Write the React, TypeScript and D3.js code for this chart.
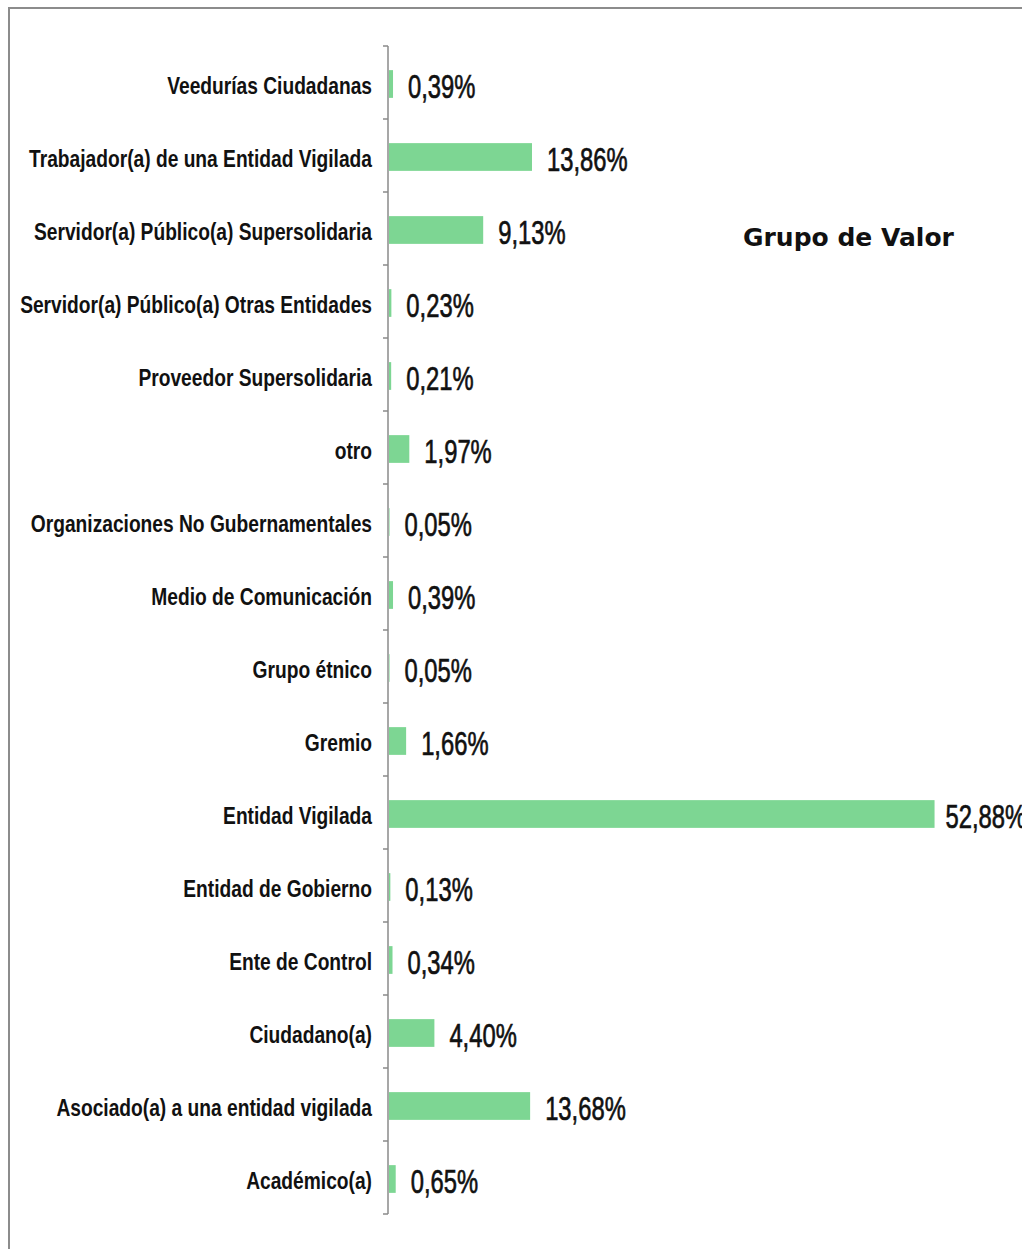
import React, { useEffect, useRef } from 'react';
import * as d3 from 'd3';

// categories, top to bottom
const categories = [
  'Veedurías Ciudadanas',
  'Trabajador(a) de una Entidad Vigilada',
  'Servidor(a) Público(a) Supersolidaria',
  'Servidor(a) Público(a) Otras Entidades',
  'Proveedor Supersolidaria',
  'otro',
  'Organizaciones No Gubernamentales',
  'Medio de Comunicación',
  'Grupo étnico',
  'Gremio',
  'Entidad Vigilada',
  'Entidad de Gobierno',
  'Ente de Control',
  'Ciudadano(a)',
  'Asociado(a) a una entidad vigilada',
  'Académico(a)',
];

const percentages = [
  0.39, 13.86, 9.13, 0.23, 0.21, 1.97, 0.05, 0.39,
  0.05, 1.66, 52.88, 0.13, 0.34, 4.40, 13.68, 0.65,
];

const valueLabels = [
  '0,39%', '13,86%', '9,13%', '0,23%', '0,21%', '1,97%', '0,05%', '0,39%',
  '0,05%', '1,66%', '52,88%', '0,13%', '0,34%', '4,40%', '13,68%', '0,65%',
];

const chartTitle = 'Grupo de Valor';

export default function App() {
  const svgRef = useRef<SVGSVGElement>(null);

  useEffect(() => {
    if (!svgRef.current) return;
    const svg = d3.select(svgRef.current);
    svg.selectAll('*').remove();

    const width = 1022;
    const height = 1249;
    const axisX = 388;
    const top = 46;
    const bottom = 1214;

    // frame (top + left only)
    svg.append('line')
      .attr('x1', 9).attr('x2', width).attr('y1', 8).attr('y2', 8)
      .attr('stroke', '#8c8c8c').attr('stroke-width', 2);
    svg.append('line')
      .attr('x1', 9).attr('x2', 9).attr('y1', 7).attr('y2', height)
      .attr('stroke', '#8c8c8c').attr('stroke-width', 2);

    const yScale = d3.scaleBand<string>()
      .domain(categories)
      .range([top, bottom])
      .padding(0);

    const barBand = d3.scaleBand<string>()
      .domain(categories)
      .range([top, bottom])
      .paddingInner(0.62)
      .paddingOuter(0.31);

    const xScale = d3.scaleLinear()
      .domain([0, 60])
      .range([axisX + 1, axisX + 1 + 619]);

    const step = yScale.step();

    // bars
    svg.selectAll('.bar')
      .data(percentages)
      .enter().append('rect')
      .attr('class', 'bar')
      .attr('x', xScale(0))
      .attr('y', (d, i) => (barBand(categories[i]) as number) + 1.5)
      .attr('width', d => xScale(d) - xScale(0))
      .attr('height', barBand.bandwidth())
      .attr('fill', '#7dd693');

    // axis line + ticks at band boundaries
    svg.append('line')
      .attr('x1', axisX).attr('x2', axisX)
      .attr('y1', top).attr('y2', bottom)
      .attr('stroke', '#8a8a8a').attr('stroke-width', 1.5);

    const boundaries = categories.map(c => yScale(c) as number).concat([bottom]);
    svg.selectAll('.tick')
      .data(boundaries)
      .enter().append('line')
      .attr('class', 'tick')
      .attr('x1', axisX - 5).attr('x2', axisX)
      .attr('y1', d => d).attr('y2', d => d)
      .attr('stroke', '#8a8a8a').attr('stroke-width', 1.5);

    // category labels (condensed look)
    svg.selectAll('.cat')
      .data(categories)
      .enter().append('text')
      .attr('class', 'cat')
      .attr('transform', c => `translate(${axisX - 16},${(yScale(c) as number) + step / 2 + 11.5}) scale(0.80,1)`)
      .attr('text-anchor', 'end')
      .style('font-family', '"Liberation Sans", Arial, sans-serif')
      .style('font-size', '24px')
      .style('font-weight', 'bold')
      .style('fill', '#111')
      .text(c => c);

    // value labels
    svg.selectAll('.val')
      .data(percentages)
      .enter().append('text')
      .attr('class', 'val')
      .attr('transform', (d, i) => `translate(${xScale(d) + (d > 50 ? 11 : 15)},${(yScale(categories[i]) as number) + step / 2 + 15}) scale(0.70,1)`)
      .style('font-family', '"Liberation Sans", Arial, sans-serif')
      .style('font-size', '34px')
      .style('fill', '#111')
      .style('stroke', '#111')
      .style('stroke-width', 0.7)
      .text((d, i) => valueLabels[i]);

    svg.append('text')
      .attr('x', 743)
      .attr('y', 246)
      .style('font-family', '"DejaVu Sans", sans-serif')
      .style('font-size', '25px')
      .style('font-weight', 'bold')
      .style('fill', '#111')
      .text(chartTitle);
  }, []);

  return (
    <svg
      ref={svgRef}
      width={1022}
      height={1249}
      style={{ position: 'absolute', left: 0, top: 0, background: '#fff' }}
    />
  );
}
